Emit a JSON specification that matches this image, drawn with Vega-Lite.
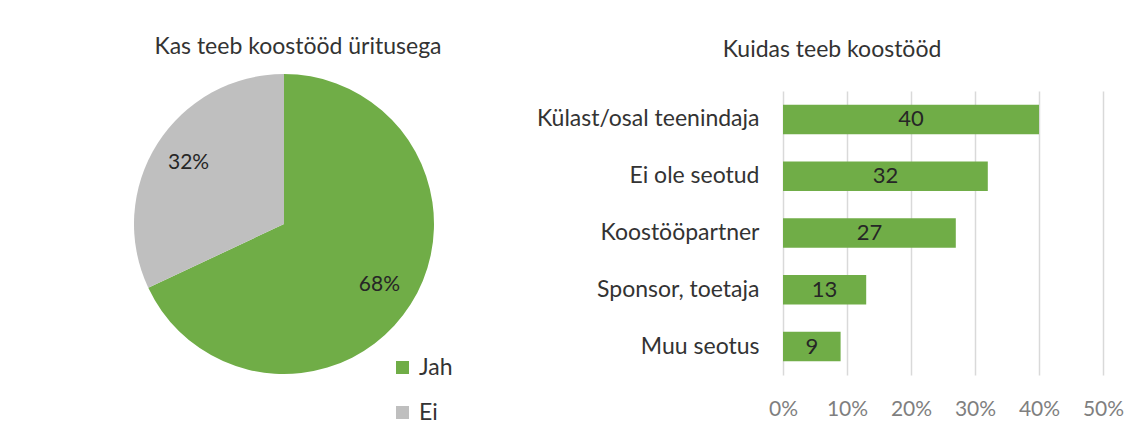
{
  "$schema": "https://vega.github.io/schema/vega-lite/v6.json",
  "padding": {"left": 134, "top": 36, "right": 10, "bottom": 10},
  "bounds": "flush",
  "spacing": 349,
  "background": "white",
  "config": {"view": {"stroke": null}, "font": "Lato"},
  "hconcat": [
    {
      "width": 300,
      "height": 266,
      "title": {"text": "Kas teeb koostööd üritusega", "fontSize": 23, "fontWeight": "normal", "color": "#333333", "baseline": "alphabetic", "offset": -3, "dx": 14},
      "data": {"values": [
        {"vastus": "Jah", "protsent": 68, "silt": "68%"},
        {"vastus": "Ei", "protsent": 32, "silt": "32%"}
      ]},
      "encoding": {
        "theta": {"field": "protsent", "type": "quantitative", "stack": true},
        "order": {"field": "protsent", "type": "quantitative", "sort": "descending"}
      },
      "layer": [
        {
          "mark": {"type": "arc", "outerRadius": 150},
          "encoding": {
            "color": {
              "field": "vastus", "type": "nominal",
              "scale": {"domain": ["Jah", "Ei"], "range": ["#70AD47", "#BFBFBF"]},
              "legend": {"title": null, "orient": "none", "legendX": 257, "legendY": 265, "symbolType": "square", "symbolSize": 169, "symbolStrokeWidth": 0, "labelFontSize": 23, "labelColor": "#333333", "labelOffset": 5, "rowPadding": 21}
            }
          }
        },
        {
          "mark": {"type": "text", "radius": 113, "fontSize": 21, "color": "#262626"},
          "encoding": {"text": {"field": "silt", "type": "nominal"}}
        }
      ]
    },
    {
      "width": 320,
      "height": 284,
      "title": {"text": "Kuidas teeb koostööd", "fontSize": 23, "fontWeight": "normal", "color": "#333333", "baseline": "alphabetic", "offset": 11, "dx": -111},
      "data": {"values": [
        {"kategooria": "Külast/osal teenindaja", "protsent": 40},
        {"kategooria": "Ei ole seotud", "protsent": 32},
        {"kategooria": "Koostööpartner", "protsent": 27},
        {"kategooria": "Sponsor, toetaja", "protsent": 13},
        {"kategooria": "Muu seotus", "protsent": 9}
      ]},
      "encoding": {
        "y": {
          "field": "kategooria", "type": "nominal", "sort": null,
          "scale": {"paddingInner": 0.48, "paddingOuter": 0.24},
          "axis": {"title": null, "ticks": false, "domain": false, "labelPadding": 24, "labelFontSize": 23, "labelColor": "#333333", "labelLimit": 400}
        }
      },
      "layer": [
        {
          "mark": {"type": "bar", "color": "#70AD47"},
          "encoding": {
            "x": {
              "field": "protsent", "type": "quantitative",
              "scale": {"domain": [0, 50]},
              "axis": {"title": null, "values": [0, 10, 20, 30, 40, 50], "labelExpr": "datum.value + '%'", "ticks": false, "domain": false, "grid": true, "gridColor": "#D9D9D9", "gridWidth": 1.5, "labelPadding": 23, "labelFontSize": 21, "labelColor": "#7F7F7F", "labelFlush": false, "labelOverlap": false}
            }
          }
        },
        {
          "mark": {"type": "text", "fontSize": 22, "color": "#262626"},
          "encoding": {
            "x": {"field": "protsent", "type": "quantitative", "scale": {"domain": [0, 100]}, "axis": null},
            "text": {"field": "protsent", "type": "quantitative"}
          }
        }
      ],
      "resolve": {"scale": {"x": "independent"}}
    }
  ]
}
